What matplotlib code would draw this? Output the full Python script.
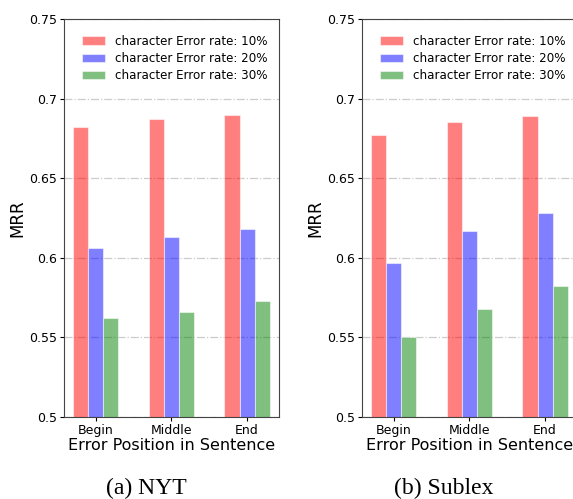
import matplotlib
matplotlib.use('Agg')
import matplotlib.pyplot as plt
import numpy as np

positions = ['Begin', 'Middle', 'End']
labels = ['character Error rate: 10%', 'character Error rate: 20%', 'character Error rate: 30%']
colors = ['r', 'b', 'g']

# NYT
nyt_10 = [0.682, 0.687, 0.690]
nyt_20 = [0.606, 0.613, 0.618]
nyt_30 = [0.562, 0.566, 0.573]

# Sublex
sub_10 = [0.677, 0.685, 0.689]
sub_20 = [0.597, 0.617, 0.628]
sub_30 = [0.550, 0.568, 0.582]

yticks = [0.5, 0.55, 0.6, 0.65, 0.7, 0.75]
yticklabels = ['0.5', '0.55', '0.6', '0.65', '0.7', '0.75']

fig = plt.figure(figsize=(5.73, 4.99), dpi=100)
ax1 = fig.add_axes([0.1117, 0.1643, 0.375, 0.7976])
ax2 = fig.add_axes([0.6318, 0.1643, 0.375, 0.7976])

width = 0.2
x = np.arange(len(positions))


def draw(ax, series, caption, cap_x):
    for i, vals in enumerate(series):
        ax.bar(x + (i - 1) * width, vals, width, color=colors[i], alpha=0.5,
               edgecolor='white', linewidth=0.8, label=labels[i], zorder=3)
    ax.set_ylim(0.5, 0.75)
    ax.set_xlim(-0.42, 2.42)
    ax.set_yticks(yticks)
    ax.set_yticklabels(yticklabels)
    ax.set_xticks(x)
    ax.set_xticklabels(positions)
    ax.tick_params(labelsize=9, length=3, pad=2)
    ax.yaxis.grid(True, linestyle='-.', color='#cccccc', linewidth=0.9, zorder=0)
    ax.set_axisbelow(True)
    ax.set_ylabel('MRR', fontsize=12, labelpad=2)
    ax.set_xlabel('Error Position in Sentence', fontsize=11.5, labelpad=1)
    for s in ax.spines.values():
        s.set_color('#444444')
        s.set_linewidth(0.8)
    ax.legend(loc='upper right', bbox_to_anchor=(1.0, 0.989), frameon=False,
              fontsize=8.6, handlelength=2.0, borderaxespad=0.55, labelspacing=0.35)
    fig.text(cap_x, 0.022, caption,
             ha='center', va='center', fontsize=17, family='Liberation Serif')


draw(ax1, [nyt_10, nyt_20, nyt_30], '(a) NYT', 146 / 573)
draw(ax2, [sub_10, sub_20, sub_30], '(b) Sublex', 444 / 573)

fig.savefig('out.png', dpi=100)
